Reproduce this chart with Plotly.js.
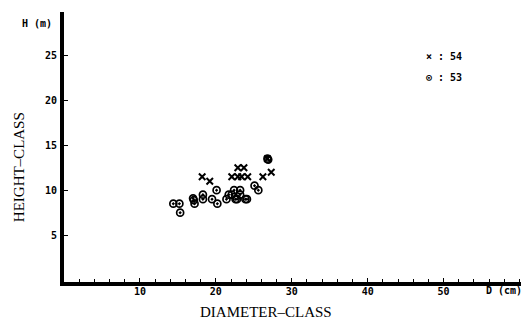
<!DOCTYPE html>
<html>
<head>
<meta charset="utf-8">
<script src="https://cdn.plot.ly/plotly-3.0.1.min.js"></script>
<style>
  html, body { margin: 0; padding: 0; background: #fff; }
  #chart { width: 530px; height: 324px; }
</style>
</head>
<body>
<div id="chart"></div>
<script>
// Diameter class (cm) and height class (m) of sample trees, by species group
const d54 = [18.2, 19.2, 22.9, 23.7, 22.1, 22.9, 23.4, 24.2, 26.2, 27.3, 26.8];
const h54 = [11.5, 11.0, 12.5, 12.5, 11.5, 11.5, 11.5, 11.5, 11.5, 12.0, 13.5];

const d53 = [14.4, 15.2, 15.3, 17.0, 17.1, 17.2, 18.3, 18.3, 20.1, 19.5, 20.2,
             21.4, 21.7, 22.4, 23.2, 22.1, 23.2, 22.6, 22.8, 23.9, 24.1, 25.1, 25.6, 26.8, 26.9];
const h53 = [8.5, 8.5, 7.5, 9.1, 8.9, 8.5, 9.5, 9.0, 10.0, 9.0, 8.5,
             9.0, 9.5, 10.0, 10.0, 9.5, 9.5, 9.0, 9.0, 9.0, 9.0, 10.5, 10.0, 13.5, 13.4];

const xTickVals = [10, 20, 30, 40, 50];
const xTickText = ['10', '20', '30', '40', '50'];
const yTickVals = [5, 10, 15, 20, 25];
const yTickText = ['5', '10', '15', '20', '25'];

// key entries: symbol and species code
const keyLabels = ['\u00d7 : 54', '\u2299 : 53'];

const mono = 'DejaVu Sans Mono, monospace';
const serif = 'Liberation Serif, DejaVu Serif, serif';

const traces = [
  {
    x: d54, y: h54, name: '54', type: 'scatter', mode: 'markers',
    marker: { symbol: 'x-thin-open', size: 6.5, color: '#000', line: { color: '#000', width: 2 } }
  },
  {
    x: d53, y: h53, name: '53', type: 'scatter', mode: 'markers',
    marker: { symbol: 'circle-open-dot', size: 7, color: '#000', line: { color: '#000', width: 1.7 } }
  }
];

const keyFont = { family: mono, size: 10, color: '#000', weight: 'bold' };

const layout = {
  width: 530, height: 324,
  margin: { l: 64, r: 9, t: 12, b: 42 },
  paper_bgcolor: '#fff', plot_bgcolor: '#fff',
  font: { family: mono, size: 10, color: '#000' },
  showlegend: false,
  xaxis: {
    range: [0, 60.2], showgrid: false, zeroline: false,
    showline: true, linecolor: '#000', linewidth: 4,
    tickmode: 'array', tickvals: xTickVals, ticktext: xTickText,
    ticks: 'inside', ticklen: 4, tickwidth: 1, tickcolor: '#000',
    minor: { dtick: 2, ticks: 'inside', ticklen: 3, tickwidth: 1, tickcolor: '#000' },
    tickfont: { family: mono, size: 10, color: '#000', weight: 'bold' },
    ticklabelstandoff: -3
  },
  yaxis: {
    range: [-0.2, 29.8], showgrid: false, zeroline: false,
    showline: true, linecolor: '#000', linewidth: 4,
    tickmode: 'array', tickvals: yTickVals, ticktext: yTickText,
    ticks: 'inside', ticklen: 4, tickwidth: 1, tickcolor: '#000',
    tickfont: { family: mono, size: 10, color: '#000', weight: 'bold' },
    ticklabelstandoff: 1
  },
  annotations: [
    { text: keyLabels[0], xref: 'paper', yref: 'paper', x: 0.787, y: 0.837,
      xanchor: 'left', yanchor: 'middle', showarrow: false, font: keyFont },
    { text: keyLabels[1], xref: 'paper', yref: 'paper', x: 0.787, y: 0.756,
      xanchor: 'left', yanchor: 'middle', showarrow: false, font: keyFont },
    { text: 'H (m)', xref: 'paper', yref: 'paper', x: -0.058, y: 0.958,
      xanchor: 'center', yanchor: 'middle', showarrow: false,
      font: { family: mono, size: 10, color: '#000', weight: 'bold' } },
    { text: 'D (cm)', xref: 'paper', yref: 'paper', x: 0.963, y: -0.03,
      xanchor: 'center', yanchor: 'middle', showarrow: false,
      font: { family: mono, size: 10, color: '#000', weight: 'bold' } },
    { text: 'DIAMETER\u2013CLASS', xref: 'paper', yref: 'paper', x: 0.441, y: -0.11,
      xanchor: 'center', yanchor: 'middle', showarrow: false,
      font: { family: serif, size: 15, color: '#000' } },
    { text: 'HEIGHT\u2013CLASS', xref: 'paper', yref: 'paper', x: -0.098, y: 0.426,
      xanchor: 'center', yanchor: 'middle', showarrow: false, textangle: -90,
      font: { family: serif, size: 15, color: '#000' } }
  ]
};

Plotly.newPlot('chart', traces, layout, { displayModeBar: false, staticPlot: true });
</script>
</body>
</html>
